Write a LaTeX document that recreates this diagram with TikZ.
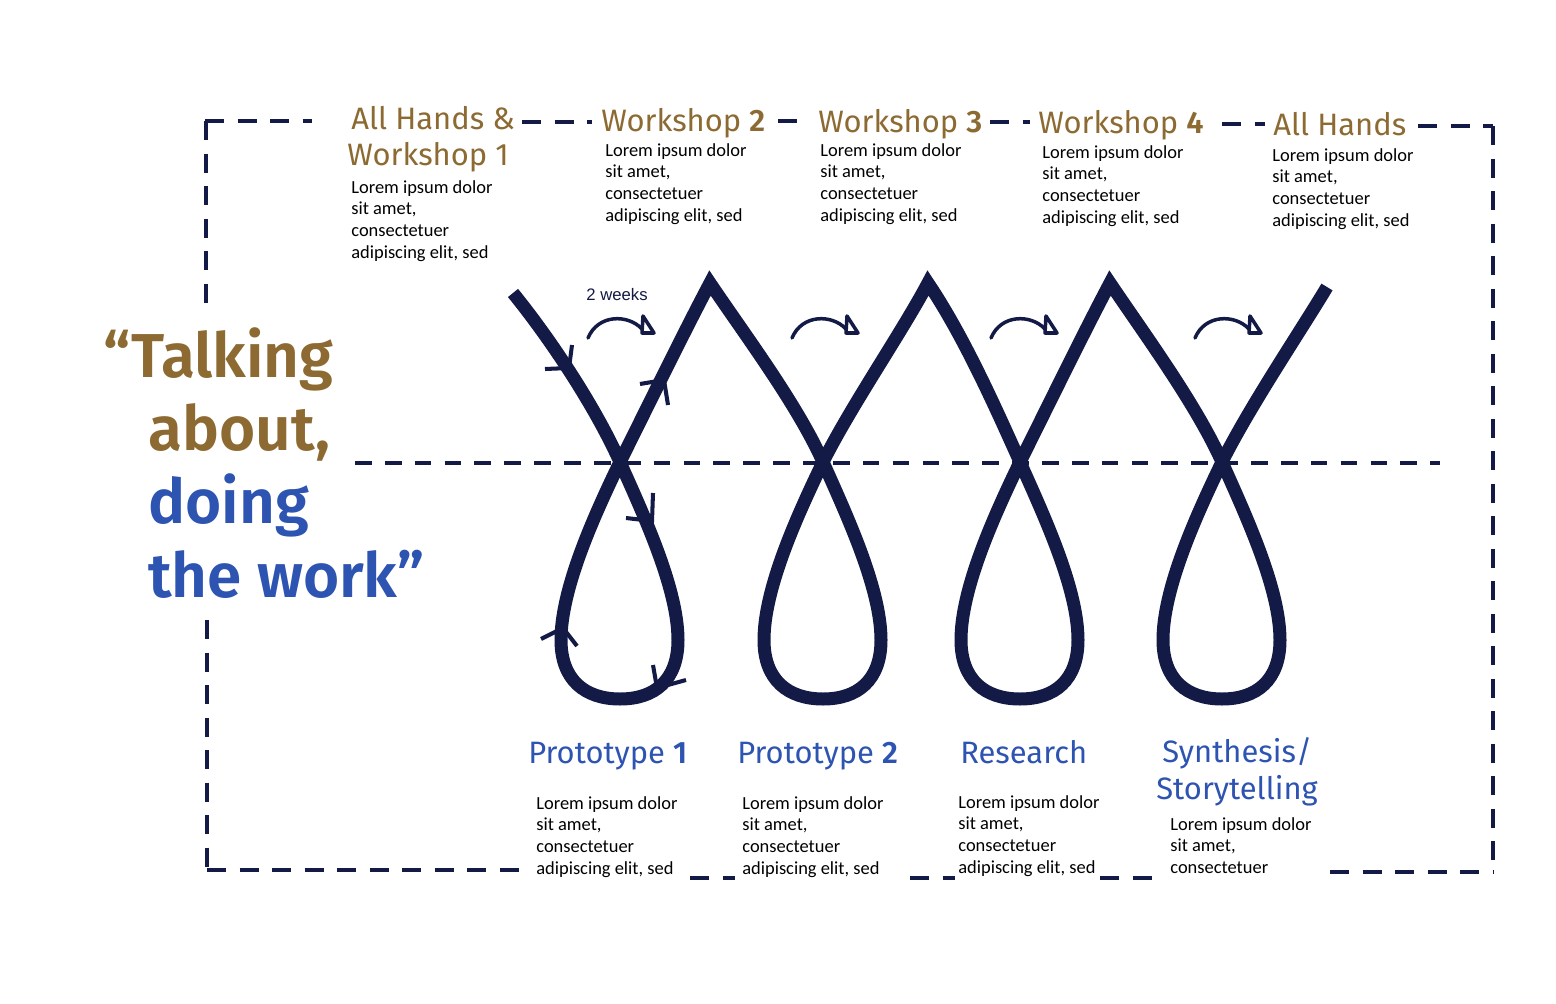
\documentclass[tikz,border=0pt]{standalone}
\usepackage{fontspec}
\setmainfont{Carlito}
\newfontfamily\headfont{Fira Sans}[BoldFont={* SemiBold}]
\newfontfamily\quotefont{Fira Sans}[UprightFont={* SemiBold}]
\newfontfamily\smallsans{Liberation Sans}
\definecolor{gold}{RGB}{140,106,50}
\definecolor{bluet}{RGB}{46,84,178}
\definecolor{navy}{RGB}{18,26,69}
\newcommand\loremfour{\vtop{\baselineskip=12.4pt\hbox{Lorem ipsum dolor}\hbox{sit amet,}\hbox{consectetuer}\hbox{adipiscing elit, sed}}}
\newcommand\loremthree{\vtop{\baselineskip=12.4pt\hbox{Lorem ipsum dolor}\hbox{sit amet,}\hbox{consectetuer}}}
\begin{document}
\begin{tikzpicture}[x=0.02cm,y=-0.02cm,
  boxdash/.style={navy,line width=2.2pt,dash pattern=on 11pt off 7.5pt},
  middash/.style={navy,line width=1.8pt,dash pattern=on 9.5pt off 7.5pt},
  mainline/.style={navy,line width=7.4pt,line join=miter},
  tick/.style={navy,line width=2.3pt},
  smallarrow/.style={navy,line width=2pt,line cap=round,line join=round},
  head/.style={font=\headfont\fontsize{17.6}{21}\selectfont,text=gold,anchor=base west,inner sep=0},
  bhead/.style={font=\headfont\fontsize{17.6}{21}\selectfont,text=bluet,anchor=base west,inner sep=0},
  body/.style={font=\fontsize{10.5}{12.4}\selectfont,text=black,anchor=base west,inner sep=0},
  quote/.style={font=\quotefont\fontsize{35.3}{41}\selectfont,anchor=base west,inner sep=0}]
\useasboundingbox[fill=white] (0,0) rectangle (1556,1004);

% dashed frame
\draw[boxdash] (205,121)--(312,121);
\draw[boxdash] (522,122)--(592,122);
\draw[boxdash] (778,121)--(808,121);
\draw[boxdash] (990,122)--(1030,122);
\draw[boxdash] (1222,124)--(1265,124);
\draw[boxdash] (1418,126)--(1493,126);
\draw[boxdash] (1493,126)--(1493,872);
\draw[boxdash] (206,121)--(206,305);
\draw[boxdash] (207,620)--(207,870);
\draw[boxdash] (207,870)--(527,870);
\draw[boxdash] (690,878)--(735,878);
\draw[boxdash] (910,878)--(955,878);
\draw[boxdash] (1100,878)--(1152,878);
\draw[boxdash] (1330,872)--(1493,872);

% middle line
\draw[middash] (355,463)--(1440,463);

% main looping line
\draw[mainline] (513,293) .. controls (548,336) and (594,404) .. (620,462)
  .. controls (646,520) and (678,590) .. (678,640)
  .. controls (678,680) and (655,699) .. (620,699)
  .. controls (585,699) and (561,680) .. (561,640)
  .. controls (561,590) and (592,520) .. (620,462)
  .. controls (648,406) and (684,332) .. (710,283)
  .. controls (745,335) and (797,404) .. (823,462)
  .. controls (849,520) and (881,590) .. (881,640)
  .. controls (881,680) and (858,699) .. (823,699)
  .. controls (788,699) and (764,680) .. (764,640)
  .. controls (764,590) and (795,520) .. (823,462)
  .. controls (851,406) and (902,332) .. (928,283)
  .. controls (963,335) and (994,404) .. (1020,462)
  .. controls (1046,520) and (1078,590) .. (1078,640)
  .. controls (1078,680) and (1055,699) .. (1020,699)
  .. controls (985,699) and (961,680) .. (961,640)
  .. controls (961,590) and (992,520) .. (1020,462)
  .. controls (1048,406) and (1084,332) .. (1110,283)
  .. controls (1145,335) and (1196,404) .. (1222,462)
  .. controls (1248,520) and (1280,590) .. (1280,640)
  .. controls (1280,680) and (1257,699) .. (1222,699)
  .. controls (1187,699) and (1163,680) .. (1163,640)
  .. controls (1163,590) and (1194,520) .. (1222,462)
  .. controls (1250,406) and (1300,332) .. (1327,287);

% direction ticks on the first loop
\draw[tick] (572,345) -- (569,368) -- (545,369);
\draw[tick] (640,384) -- (664,380) -- (668,405);
\draw[tick] (653,493) -- (652,521) -- (626,518);
\draw[tick] (541,639) -- (563,628) -- (577,646);
\draw[tick] (653,665) -- (657,688) -- (686,680);

% small curved arrows
\foreach \dx in {0,204,403,607}{
  \draw[smallarrow] (588+\dx,338) .. controls (598+\dx,314) and (628+\dx,314) .. (642+\dx,329);
  \draw[smallarrow] (643+\dx,316) -- (654+\dx,333) -- (642+\dx,333) -- cycle;
}
\node[font=\smallsans\fontsize{9.5}{11}\selectfont,text=navy,inner sep=0] (weeks) at (617,295) {2 weeks};

% top headings
\node[head] (h1a) at (351,129) {All Hands \&};
\node[head] (h1b) at (347,165) {Workshop 1};
\node[head] (h2) at (601,131) {Workshop \textbf{2}};
\node[head] (h3) at (818,132) {Workshop \textbf{3}};
\node[head] (h4) at (1038,133) {Workshop \textbf{4}};
\node[head] (h5) at (1273,135) {All Hands};

\node[body] (t1) at (351,193) {\loremfour};
\node[body] (t2) at (605,156) {\loremfour};
\node[body] (t3) at (820,156) {\loremfour};
\node[body] (t4) at (1042,158) {\loremfour};
\node[body] (t5) at (1272,161) {\loremfour};

% bottom headings
\node[bhead] (b1) at (528,763) {Prototype \textbf{1}};
\node[bhead] (b2) at (737,763) {Prototype \textbf{2}};
\node[bhead] (b3) at (960,763) {Research};
\node[bhead] (b4a) at (1162,762) {Synthesis/};
\node[bhead] (b4b) at (1156,799) {Storytelling};

\node[body] (u1) at (536,809) {\loremfour};
\node[body] (u2) at (742,809) {\loremfour};
\node[body] (u3) at (958,808) {\loremfour};
\node[body] (u4) at (1170,830) {\loremthree};

% quote
\node[quote,text=gold] (q1) at (103,377) {“Talking};
\node[quote,text=gold] (q2) at (148,450) {about,};
\node[quote,text=bluet] (q3) at (148,523) {doing};
\node[quote,text=bluet] (q4) at (148,597) {the work”};
\end{tikzpicture}
\end{document}
